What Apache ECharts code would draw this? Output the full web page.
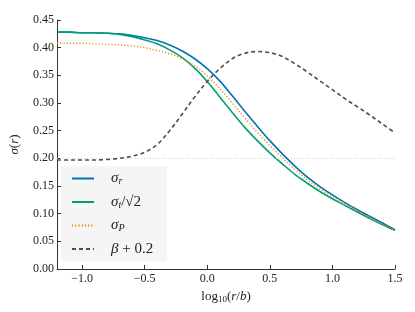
<!DOCTYPE html>
<html>
<head>
<meta charset="utf-8">
<script src="https://cdn.jsdelivr.net/npm/echarts@6/dist/echarts.min.js"></script>
<style>
html,body{margin:0;padding:0;background:#fff;}
#chart{width:415px;height:312px;}
</style>
</head>
<body>
<div id="chart"></div>
<script>
// log10(r/b) sample positions
var xs = [-1.2,-1.1,-1.0,-0.9,-0.8,-0.7,-0.6,-0.5,-0.4,-0.3,-0.2,-0.1,0.0,0.1,0.2,0.3,0.4,0.5,0.6,0.7,0.8,0.9,1.0,1.1,1.2,1.3,1.4,1.5];
var sigmaR = [0.428,0.428,0.427,0.427,0.426,0.425,0.422,0.418,0.413,0.405,0.394,0.380,0.362,0.340,0.313,0.285,0.258,0.232,0.208,0.186,0.166,0.149,0.134,0.120,0.107,0.095,0.083,0.071];
var sigmaT = [0.428,0.428,0.427,0.427,0.426,0.424,0.420,0.414,0.407,0.396,0.382,0.363,0.339,0.311,0.283,0.256,0.232,0.210,0.190,0.171,0.155,0.140,0.127,0.115,0.103,0.091,0.080,0.070];
var sigmaP = [0.408,0.408,0.408,0.407,0.406,0.405,0.403,0.400,0.395,0.389,0.380,0.367,0.349,0.326,0.300,0.273,0.247,0.223,0.201,0.180,0.161,0.145,0.131,0.118,0.105,0.093,0.081,0.070];
var betaP = [0.197,0.197,0.197,0.197,0.198,0.200,0.204,0.211,0.225,0.250,0.280,0.311,0.339,0.362,0.380,0.390,0.393,0.391,0.384,0.371,0.356,0.340,0.324,0.308,0.293,0.278,0.262,0.246];
var xTicks = [-1.0,-0.5,0.0,0.5,1.0,1.5];
var refLevel = 0.2;

function pairs(ys){ return xs.map(function(x,i){ return [x, ys[i]]; }); }
var FONT = 'Liberation Serif';
var chart = echarts.init(document.getElementById('chart'), null, {renderer:'canvas'});

var rich = {
  s:{fontFamily:FONT, fontSize:15, fontStyle:'italic', color:'#222'},
  sub:{fontFamily:FONT, fontSize:10, fontStyle:'italic', color:'#222', padding:[6,0,0,0]},
  n:{fontFamily:FONT, fontSize:15, color:'#222'}
};
var legendLabels = {
  'sr':'{s|σ}{sub|r}',
  'st':'{s|σ}{sub|t}{n|/√2}',
  'sp':'{s|σ}{sub|P}',
  'bb':'{s|β}{n| + 0.2}'
};

var option = {
  animation:false,
  backgroundColor:'#fff',
  grid:{left:53, right:20, top:20, bottom:43},
  xAxis:{
    type:'value', min:-1.2, max:1.5,
    name:'{n|log}{sub|10}{n|(}{i|r}{n|/}{i|b}{n|)}',
    nameLocation:'middle', nameGap:11,
    nameTextStyle:{rich:{
      n:{fontFamily:FONT, fontSize:13, color:'#222'},
      i:{fontFamily:FONT, fontSize:13, fontStyle:'italic', color:'#222'},
      sub:{fontFamily:FONT, fontSize:9, color:'#222', padding:[7,0,0,0]}
    }},
    axisLine:{show:true, onZero:false, lineStyle:{color:'#333', width:1}},
    axisTick:{show:true, inside:true, length:4, customValues:xTicks, lineStyle:{color:'#333'}},
    axisLabel:{customValues:xTicks, margin:4, fontFamily:FONT, fontSize:12, color:'#222',
      formatter:function(v){ return v.toFixed(1).replace('-', '\u2212'); }},
    splitLine:{show:false}
  },
  yAxis:{
    type:'value', min:0, max:0.45, interval:0.05,
    name:'{i|σ}{n|(}{i|r}{n|)}',
    nameLocation:'middle', nameGap:36, nameRotate:90,
    nameTextStyle:{rich:{
      n:{fontFamily:FONT, fontSize:13, color:'#222'},
      i:{fontFamily:FONT, fontSize:13, fontStyle:'italic', color:'#222'}
    }},
    axisLine:{show:true, onZero:false, lineStyle:{color:'#333', width:1}},
    axisTick:{show:true, inside:true, length:4, lineStyle:{color:'#333'}},
    axisLabel:{margin:3, fontFamily:FONT, fontSize:12, color:'#222',
      formatter:function(v){ return v.toFixed(2); }},
    splitLine:{show:false}
  },
  legend:{
    left:61, top:166, orient:'vertical',
    backgroundColor:'#f5f5f5', borderRadius:2,
    padding:[5,14,5,10],
    itemWidth:22, itemHeight:14, itemGap:8,
    itemStyle:{opacity:0},
    data:['sr','st','sp','bb'],
    formatter:function(n){ return legendLabels[n]; },
    textStyle:{padding:[0,0,0,12], rich:rich}
  },
  series:[
    {name:'sr', type:'line', data:pairs(sigmaR), smooth:0.35, symbol:'none', z:2,
      lineStyle:{color:'#0173b2', width:1.6}, itemStyle:{color:'#0173b2'},
      markLine:{silent:true, symbol:['none','none'], label:{show:false},
        lineStyle:{color:'#cfcfcf', type:[1,2], width:1}, data:[{yAxis:refLevel}]}},
    {name:'st', type:'line', data:pairs(sigmaT), smooth:0.35, symbol:'none', z:3,
      lineStyle:{color:'#029e73', width:1.6}, itemStyle:{color:'#029e73'}},
    {name:'sp', type:'line', data:pairs(sigmaP), smooth:0.35, symbol:'none', z:4,
      lineStyle:{color:'#de8f05', width:1.4, type:[1.2,2]}, itemStyle:{color:'#de8f05'}},
    {name:'bb', type:'line', data:pairs(betaP), smooth:0.35, symbol:'none', z:5,
      lineStyle:{color:'#4d4d4d', width:1.6, type:[4,3]}, itemStyle:{color:'#4d4d4d'}}
  ]
};
chart.setOption(option);
</script>
</body>
</html>
